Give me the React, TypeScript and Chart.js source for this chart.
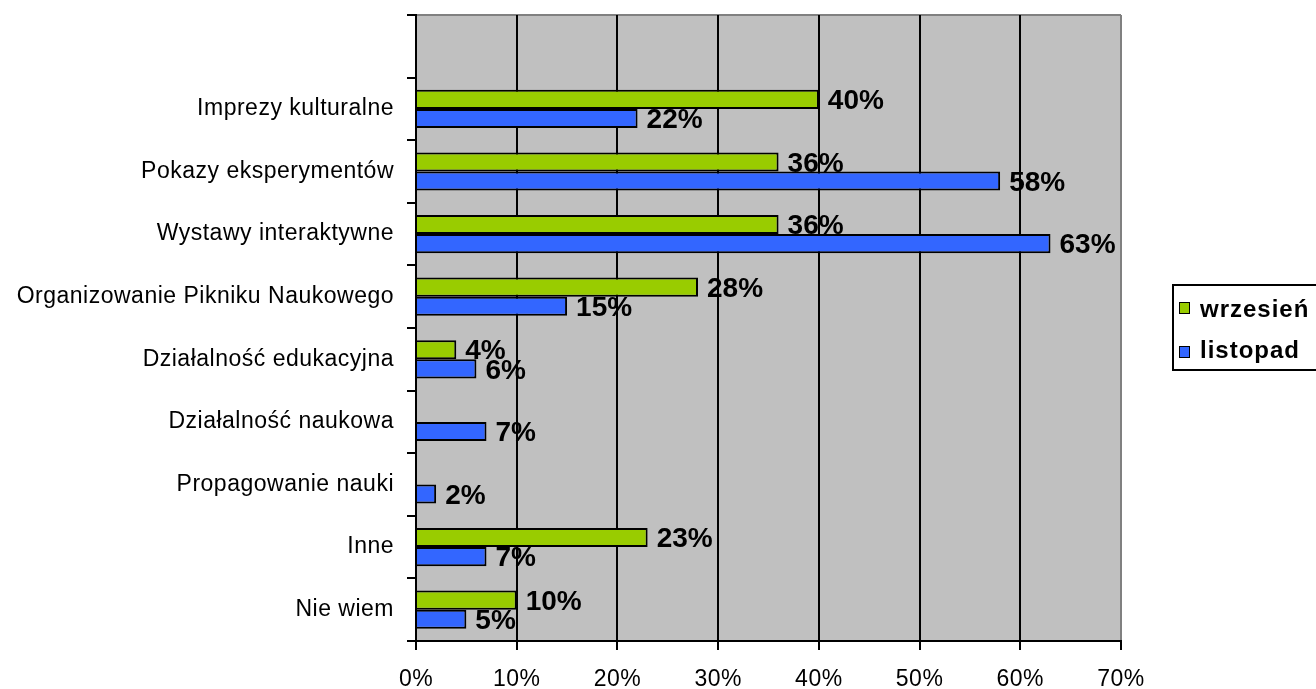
import React, { useEffect, useRef } from 'react';
import { Chart, registerables } from 'chart.js';

Chart.register(...registerables);

const categories = [
  '',
  'Imprezy kulturalne',
  'Pokazy eksperymentów',
  'Wystawy interaktywne',
  'Organizowanie Pikniku Naukowego',
  'Działalność edukacyjna',
  'Działalność naukowa',
  'Propagowanie nauki',
  'Inne',
  'Nie wiem',
];
const wrzesien: (number | null)[] = [null, 40, 36, 36, 28, 4, null, null, 23, 10];
const listopad: (number | null)[] = [null, 22, 58, 63, 15, 6, 7, 2, 7, 5];
const seriesNames = ['wrzesień', 'listopad'];
const xMin = 0;
const xMax = 70;
const xStep = 10;

const GREEN = '#99CC00';
const BLUE = '#3366FF';
const FONT = "'Liberation Sans', Arial, sans-serif";
const AXIS_SPACING = '0.5px';

const plotBgPlugin = {
  id: 'plotBg',
  beforeDraw(chart: any) {
    const { ctx, chartArea: a } = chart;
    ctx.save();
    ctx.fillStyle = '#C0C0C0';
    ctx.fillRect(a.left, a.top, a.right - a.left, a.bottom - a.top);
    ctx.strokeStyle = '#808080';
    ctx.lineWidth = 2;
    ctx.beginPath();
    ctx.moveTo(a.left, a.top);
    ctx.lineTo(a.right, a.top);
    ctx.stroke();
    ctx.restore();
    try {
      (ctx as any).letterSpacing = AXIS_SPACING;
    } catch (e) {}
  },
};

const valueLabelPlugin = {
  id: 'valueLabels',
  afterDatasetsDraw(chart: any) {
    const { ctx } = chart;
    ctx.save();
    try {
      (ctx as any).letterSpacing = '0px';
    } catch (e) {}
    ctx.font = `bold 28px ${FONT}`;
    ctx.fillStyle = '#000';
    ctx.textAlign = 'left';
    ctx.textBaseline = 'middle';
    chart.data.datasets.forEach((ds: any, di: number) => {
      const meta = chart.getDatasetMeta(di);
      meta.data.forEach((el: any, i: number) => {
        const v = ds.data[i];
        if (v === null || v === undefined) return;
        ctx.fillText(`${v}%`, el.x + 9, el.y + 2);
      });
    });
    ctx.restore();
    try {
      (ctx as any).letterSpacing = AXIS_SPACING;
    } catch (e) {}
  },
};

export default function App() {
  const ref = useRef<HTMLCanvasElement | null>(null);

  useEffect(() => {
    if (!ref.current) return;
    const chart = new Chart(ref.current, {
      type: 'bar',
      data: {
        labels: categories,
        datasets: [
          {
            label: seriesNames[0],
            data: wrzesien,
            backgroundColor: GREEN,
            borderColor: '#000',
            borderWidth: 2,
            categoryPercentage: 0.61,
            barPercentage: 1.0,
          },
          {
            label: seriesNames[1],
            data: listopad,
            backgroundColor: BLUE,
            borderColor: '#000',
            borderWidth: 2,
            categoryPercentage: 0.61,
            barPercentage: 1.0,
          },
        ],
      },
      options: {
        indexAxis: 'y',
        animation: false,
        responsive: false,
        devicePixelRatio: 1,
        layout: { padding: { left: 0, top: 15, right: 195, bottom: 0 } },
        plugins: {
          legend: { display: false },
          tooltip: { enabled: false },
        },
        scales: {
          x: {
            min: xMin,
            max: xMax,
            ticks: {
              stepSize: xStep,
              callback: (v: any) => `${v}%`,
              color: '#000',
              font: { family: FONT, size: 23 },
              padding: 16,
              maxRotation: 0,
            },
            grid: {
              color: (c: any) => (c.index === 7 ? '#808080' : '#000'),
              tickColor: '#000',
              lineWidth: 2,
              tickLength: 9,
            },
            border: { color: '#000', width: 2 },
            afterFit: (s: any) => {
              s.height = 48;
              s.paddingLeft = 0;
              s.paddingRight = 0;
            },
          },
          y: {
            ticks: {
              color: '#000',
              font: { family: FONT, size: 23 },
              padding: 13,
              autoSkip: false,
            },
            grid: {
              drawOnChartArea: false,
              drawTicks: true,
              tickLength: 9,
              color: '#000',
              lineWidth: 2,
              offset: true,
            },
            border: { color: '#000', width: 2 },
            afterFit: (s: any) => {
              s.width = 416;
              s.paddingTop = 0;
              s.paddingBottom = 0;
            },
          },
        },
      } as any,
      plugins: [plotBgPlugin, valueLabelPlugin],
    });
    return () => chart.destroy();
  }, []);

  const legendText: React.CSSProperties = {
    position: 'absolute',
    left: 1200,
    fontFamily: FONT,
    fontWeight: 'bold',
    fontSize: 24,
    lineHeight: '24px',
    letterSpacing: '1px',
    color: '#000',
    whiteSpace: 'nowrap',
  };
  const square: React.CSSProperties = {
    position: 'absolute',
    left: 1179,
    width: 11,
    height: 12,
    border: '1px solid #000',
    boxSizing: 'border-box',
  };

  return (
    <div
      style={{
        position: 'fixed',
        left: 0,
        top: 0,
        width: 1316,
        height: 689,
        overflow: 'hidden',
        background: '#fff',
      }}
    >
      <canvas ref={ref} width={1316} height={689} style={{ display: 'block' }} />
      <div
        style={{
          position: 'absolute',
          left: 1172,
          top: 284,
          width: 200,
          height: 87,
          border: '2px solid #000',
          boxSizing: 'border-box',
        }}
      />
      <div style={{ ...square, top: 302, background: GREEN }} />
      <div style={{ ...legendText, top: 297 }}>{seriesNames[0]}</div>
      <div style={{ ...square, top: 346, background: BLUE }} />
      <div style={{ ...legendText, top: 338 }}>{seriesNames[1]}</div>
    </div>
  );
}
